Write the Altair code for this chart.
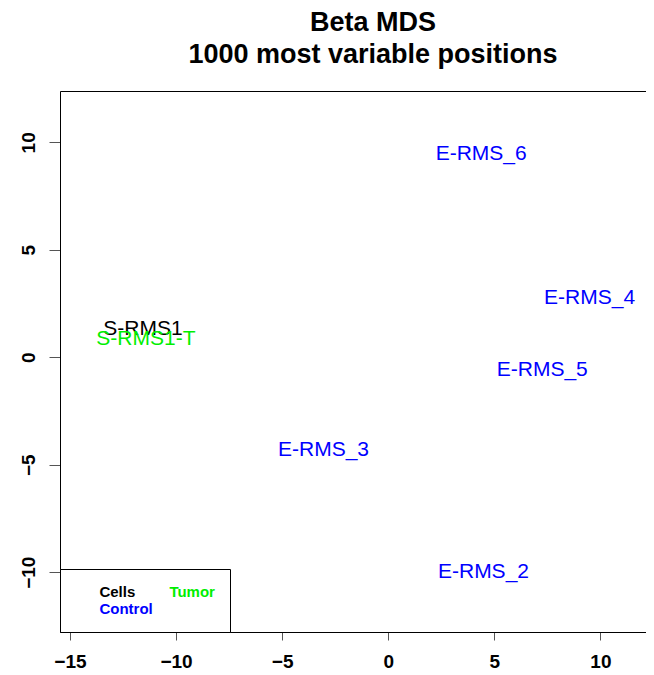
import altair as alt
import pandas as pd

# ---- data ----
names = ["S-RMS1", "S-RMS1-T", "E-RMS_2", "E-RMS_3", "E-RMS_4", "E-RMS_5", "E-RMS_6"]
dim1 = [-11.56, -11.42, 4.49, -3.05, 9.49, 7.26, 4.38]
dim2 = [1.32, 0.85, -10.01, -4.33, 2.74, -0.58, 9.47]
groups = ["Cells", "Tumor", "Control", "Control", "Control", "Control", "Control"]
group_order = ["Cells", "Tumor", "Control"]
group_colors = ["#000000", "#00ee00", "#0000ff"]
x_ticks = [-15, -10, -5, 0, 5, 10]
y_ticks = [-10, -5, 0, 5, 10]
x_domain = [-15.47, 12.15]
y_domain = [-12.78, 12.39]
title_lines = ["Beta MDS", "1000 most variable positions"]

df = pd.DataFrame({"name": names, "dim1": dim1, "dim2": dim2, "group": groups})

FONT = "Liberation Sans"

xscale = alt.Scale(domain=x_domain, nice=False, zero=False)
yscale = alt.Scale(domain=y_domain, nice=False, zero=False)

color = alt.Color(
    "group:N",
    scale=alt.Scale(domain=group_order, range=group_colors),
    legend=alt.Legend(
        title=" ",
        titleOrient="left",
        titleFontSize=11,
        titlePadding=9.4,
        orient="bottom-left",
        direction="horizontal",
        gridAlign="all",
        offset=0,
        columns=2,
        padding=15,
        symbolSize=1,
        symbolOpacity=0,
        symbolStrokeWidth=0,
        labelOffset=0,
        columnPadding=1,
        rowPadding=1,
        labelFont=FONT,
        labelFontSize=15,
        labelFontWeight="bold",
        labelColor=alt.ExprRef(expr="scale('color', datum.value)"),
        strokeColor="black",
        fillColor="white",
    ),
)

labels = alt.Chart(df).mark_text(
    font=FONT, fontSize=21, align="center", baseline="middle"
).encode(
    x=alt.X(
        "dim1:Q",
        scale=xscale,
        axis=alt.Axis(
            values=x_ticks,
            orient="bottom",
            title=None,
            grid=False,
            tickSize=8,
            tickColor="#555555",
            domainColor="#000000",
            labelFont=FONT,
            labelFontSize=19,
            labelFontWeight="bold",
            labelColor="#000000",
            labelPadding=12,
            labelFlush=False,
            labelOverlap=False,
        ),
    ),
    y=alt.Y(
        "dim2:Q",
        scale=yscale,
        axis=alt.Axis(
            values=y_ticks,
            title=None,
            grid=False,
            tickSize=11,
            tickColor="#555555",
            domainColor="#000000",
            labelFont=FONT,
            labelFontSize=19,
            labelFontWeight="bold",
            labelColor="#000000",
            labelAngle=270,
            labelAlign="center",
            labelBaseline="alphabetic",
            labelPadding=15,
            labelFlush=False,
            labelOverlap=False,
        ),
    ),
    text="name:N",
    color=color,
)

top_frame = alt.Chart(df).mark_point(opacity=0).encode(
    x=alt.X(
        "dim1:Q",
        scale=xscale,
        axis=alt.Axis(orient="top", labels=False, ticks=False, grid=False,
                      domain=True, domainColor="#000000", title=None),
    ),
)

chart = (
    alt.layer(labels, top_frame)
    .resolve_axis(x="independent")
    .properties(
        width=586,
        height=541,
        padding={"left": 52, "top": 83, "right": 0, "bottom": 39},
        autosize=alt.AutoSizeParams(type="none"),
        title=alt.TitleParams(
            text=title_lines,
            font=FONT,
            fontSize=27,
            fontWeight="bold",
            color="#000000",
            anchor="middle",
            dx=20,
            offset=22,
            lineHeight=32,
        ),
    )
    .configure_view(stroke=None)
    .configure(background="white")
)

chart.save("out.html", embed_options={"renderer": "svg", "actions": False})
